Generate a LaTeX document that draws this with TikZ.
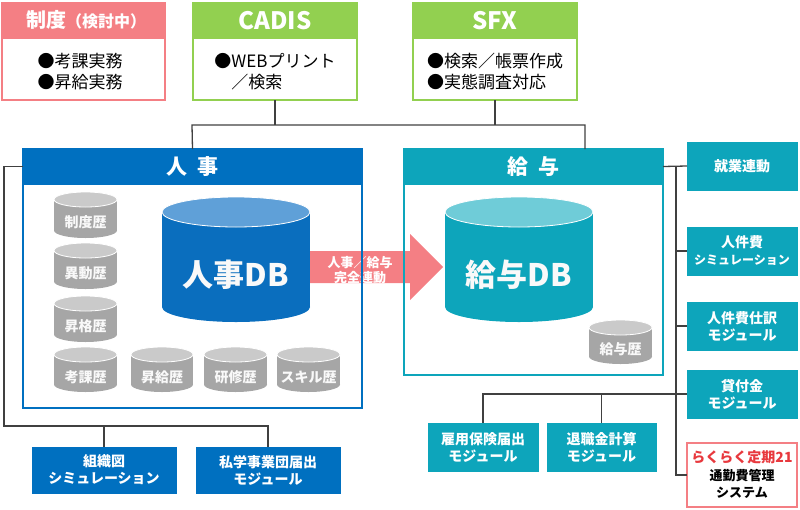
\documentclass[tikz,border=0pt]{standalone}
\usepackage{fontspec}
\setmainfont{Noto Sans CJK JP}
\usetikzlibrary{calc}
\definecolor{pinkc}{HTML}{F47F84}
\definecolor{greenc}{HTML}{92D050}
\definecolor{bluec}{HTML}{0070C0}
\definecolor{bluedb}{HTML}{0A6EBE}
\definecolor{bluetop}{HTML}{5FA0D8}
\definecolor{tealc}{HTML}{0DA5BB}
\definecolor{tealtop}{HTML}{6FCCD8}
\definecolor{grayb}{HTML}{A6A6A6}
\definecolor{grayt}{HTML}{CACACA}
\definecolor{linec}{HTML}{404040}
\definecolor{redt}{HTML}{E8383D}
\newcommand\fs[2]{\fontsize{#1}{#2}\selectfont}
% name, x1, y1, x2, y2, ry, body colour, top colour, text
\newcommand\dbcyl[9]{%
  \fill[#7] (#2,{#3+#6}) rectangle (#4,{#5-#6});
  \fill[#7] ({(#2+#4)/2},{#5-#6}) ellipse ({(#4-#2)/2} and #6);
  \filldraw[fill=#8,draw=white,line width=0.8] ({(#2+#4)/2},{#3+#6}) ellipse ({(#4-#2)/2} and #6);
  \node[cyltext] (#1) at ({(#2+#4)/2},{(#3+#5)/2+#6}) {#9};
}
\begin{document}
\begin{tikzpicture}[x=1pt,y=-1pt,
  frame/.style={draw=#1, line width=1.2, inner sep=0, outer sep=0, anchor=north west},
  hdr/.style={fill=#1, draw=#1, line width=1.2, text=white, inner sep=0, outer sep=0, anchor=north west},
  sbox/.style={fill=#1, draw=#1, text=white, inner sep=0, outer sep=0, anchor=north west, align=center, font=\fs{14}{17}\bfseries},
  bodytxt/.style={align=left, inner sep=0, font=\fs{17}{21}},
  cyltext/.style={text=white!95!gray, inner sep=0, align=center, font=\bfseries},
  conn/.style={draw=linec, line width=1.3},
]
\useasboundingbox (0,0) rectangle (800,509);

% ---- top boxes ----
\node[frame=pinkc, minimum width=163, minimum height=97] (seido) at (2,3) {};
\node[hdr=pinkc, minimum width=163, minimum height=35] (seidoH) at (2,3) {};
\node[text=white, inner sep=0, font=\bfseries] (seidoHT) at (86,20) {\fs{20}{24}制度\fs{16}{24}（検討中）};
\node[bodytxt] (seidoT) at (80,72) {●考課実務\\●昇給実務};

\node[frame=greenc, minimum width=164, minimum height=97] (cadis) at (193,3) {};
\node[hdr=greenc, minimum width=164, minimum height=35, font=\fs{24}{26}\bfseries] (cadisH) at (193,3) {CADIS};
\node[bodytxt] (cadisT) at (275,72) {●WEBプリント\\\phantom{●}／検索};

\node[frame=greenc, minimum width=164, minimum height=97] (sfx) at (413,3) {};
\node[hdr=greenc, minimum width=164, minimum height=35, font=\fs{24}{26}\bfseries] (sfxH) at (413,3) {SFX};
\node[bodytxt] (sfxT) at (495,72) {●検索／帳票作成\\●実態調査対応};

% ---- cylinders ----
\dbcyl{c1}{54}{192}{117}{238}{7.5}{grayb}{grayt}{\fs{14}{16}制度歴}
\dbcyl{c2}{54}{243}{117}{289}{7.5}{grayb}{grayt}{\fs{14}{16}異動歴}
\dbcyl{c3}{54}{296}{117}{342}{7.5}{grayb}{grayt}{\fs{14}{16}昇格歴}
\dbcyl{c4}{54}{347}{117}{392}{7.5}{grayb}{grayt}{\fs{14}{16}考課歴}
\dbcyl{c5}{131}{347}{193}{392}{7.5}{grayb}{grayt}{\fs{14}{16}昇給歴}
\dbcyl{c6}{204}{347}{267}{392}{7.5}{grayb}{grayt}{\fs{14}{16}研修歴}
\dbcyl{c7}{277}{347}{340}{392}{7.5}{grayb}{grayt}{\fs{14}{16}スキル歴}
\dbcyl{jdb}{162}{197}{310}{322}{15}{bluedb}{bluetop}{\fs{31}{34}人事DB}
\dbcyl{kdb}{445}{197}{593}{322}{15}{tealc}{tealtop}{\fs{31}{34}給与DB}
\dbcyl{c8}{589}{320}{652}{364}{7.5}{grayb}{grayt}{\fs{14}{16}給与歴}

% ---- arrow ----
\fill[pinkc] (310,251) -- (410,251) -- (410,234) -- (443,267) -- (410,300) -- (410,283) -- (310,283) -- cycle;
\node[text=white, align=center, inner sep=0, font=\fs{13}{15}\bfseries] (arrowT) at (360,270) {人事／給与\\完全連動};

% ---- main frames ----
\node[frame=bluec, minimum width=339, minimum height=259] (jinji) at (23,149) {};
\node[hdr=bluec, minimum width=339, minimum height=35, font=\fs{21}{24}\bfseries] (jinjiH) at (23,149) {人\hspace{0.5em}事};
\node[frame=tealc, minimum width=259, minimum height=226] (kyuyo) at (404,149) {};
\node[hdr=tealc, minimum width=259, minimum height=35, font=\fs{21}{24}\bfseries] (kyuyoH) at (404,149) {給\hspace{0.5em}与};

% ---- right boxes ----
\node[sbox=tealc, minimum width=110, minimum height=48] (shugyo) at (687,142) {就業連動};
\node[sbox=tealc, minimum width=110, minimum height=48] (jinkenhi) at (687,227) {人件費\\{\fs{12}{15}シミュレーション}};
\node[sbox=tealc, minimum width=110, minimum height=48] (shiwake) at (687,302) {人件費仕訳\\モジュール};
\node[sbox=tealc, minimum width=110, minimum height=48] (kashi) at (687,370) {貸付金\\モジュール};
\node[fill=white, draw=pinkc, line width=1.2, inner sep=0, outer sep=0, anchor=north west, align=center, font=\fs{13}{17.5}\bfseries, minimum width=110, minimum height=64] (raku) at (687,443) {{\color{redt}\fs{14}{17.5}らくらく定期21}\\通勤費管理\\システム};

% ---- bottom boxes ----
\node[sbox=tealc, minimum width=110, minimum height=48] (koyo) at (428,423) {雇用保険届出\\モジュール};
\node[sbox=tealc, minimum width=109, minimum height=48] (taishoku) at (547,423) {退職金計算\\モジュール};
\node[sbox=bluec, minimum width=144, minimum height=46] (soshiki) at (32,447) {組織図\\シミュレーション};
\node[sbox=bluec, minimum width=144, minimum height=46] (shigaku) at (196,447) {私学事業団届出\\モジュール};

% ---- connectors ----
\coordinate (busL) at (192,125);
\coordinate (busR) at (585,125);
\draw[conn] (cadis.south) -- (cadis.south |- busL);
\draw[conn] (sfx.south) -- (sfx.south |- busL);
\draw[conn] (jinji.north) -- (busL) -- (busR) -- (busR |- kyuyo.north);

\coordinate (lb) at (4,426);
\draw[conn] (jinjiH.west) -| (lb) -| (shigaku.north);
\draw[conn] (soshiki.north) -- (soshiki.north |- lb);

\coordinate (rv) at (676,166);
\draw[conn] (kyuyoH.east) -- (shugyo.west);
\draw[conn] (rv) |- (raku.west);
\draw[conn] (rv |- jinkenhi.west) -- (jinkenhi.west);
\draw[conn] (rv |- shiwake.west) -- (shiwake.west);
\draw[conn] (kashi.west) -- (koyo.north |- kashi.west) -- (koyo.north);
\draw[conn] (taishoku.north) -- (taishoku.north |- kashi.west);
\end{tikzpicture}
\end{document}
